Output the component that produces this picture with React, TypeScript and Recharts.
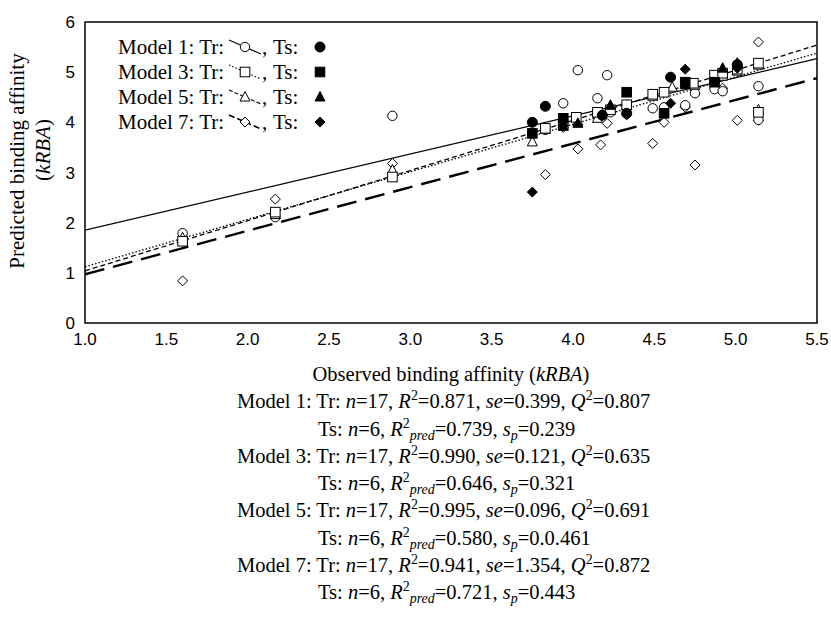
import React from 'react';
import { ScatterChart, Scatter, XAxis, YAxis, ReferenceArea } from 'recharts';

const m1Train = [[1.60, 1.79], [2.17, 2.11], [2.89, 4.13], [3.83, 3.85], [3.94, 4.38], [4.03, 5.04], [4.15, 4.48], [4.21, 4.94], [4.23, 4.20], [4.49, 4.28], [4.56, 4.30], [4.69, 4.34], [4.75, 4.58], [4.87, 4.66], [4.92, 4.62], [5.14, 4.72], [5.14, 4.05]];
const m1Test = [[3.75, 4.00], [3.83, 4.32], [4.18, 4.14], [4.33, 4.18], [4.60, 4.90], [5.01, 5.15]];
const m3Train = [[1.60, 1.63], [2.17, 2.21], [2.89, 2.91], [3.83, 3.88], [3.94, 3.95], [4.02, 4.10], [4.15, 4.20], [4.23, 4.25], [4.33, 4.35], [4.49, 4.56], [4.56, 4.60], [4.74, 4.78], [4.87, 4.94], [4.92, 4.98], [5.01, 5.06], [5.14, 5.18], [5.14, 4.20]];
const m3Test = [[3.75, 3.78], [3.94, 4.08], [4.33, 4.60], [4.56, 4.18], [4.69, 4.80], [4.87, 4.80]];
const m5Train = [[1.60, 1.70], [2.17, 2.16], [2.89, 3.05], [3.75, 3.61], [3.83, 3.86], [4.03, 4.02], [4.15, 4.08], [4.23, 4.28], [4.33, 4.34], [4.49, 4.52], [4.61, 4.70], [4.75, 4.74], [4.87, 4.88], [4.92, 4.92], [5.01, 5.02], [5.14, 5.14], [5.14, 4.25]];
const m5Test = [[3.94, 3.92], [4.03, 3.98], [4.23, 4.34], [4.69, 4.75], [4.92, 5.08], [5.01, 5.18]];
const m7Train = [[1.60, 0.84], [2.17, 2.47], [2.89, 3.18], [3.83, 2.96], [4.03, 3.47], [4.17, 3.55], [4.21, 3.98], [4.49, 3.58], [4.56, 4.00], [4.75, 3.15], [5.01, 4.04], [5.14, 5.60], [5.14, 4.04], [3.94, 3.90], [4.15, 4.12], [4.92, 4.68], [4.69, 4.30]];
const m7Test = [[3.75, 2.61], [3.94, 3.93], [4.33, 4.15], [4.60, 4.38], [4.69, 5.06], [5.01, 5.08]];

// regression line end points
const fit1 = [[1, 1.85], [5.5, 5.27]];
const fit3 = [[1, 1.12], [5.5, 5.38]];
const fit5 = [[1, 1.04], [5.5, 5.54]];
const fit7 = [[1, 0.97], [5.5, 4.88]];

const xTicks = [1, 1.5, 2, 2.5, 3, 3.5, 4, 4.5, 5, 5.5];
const yTicks = [0, 1, 2, 3, 4, 5, 6];

const toPts = (arr: number[][]) => arr.map(([x, y]) => ({ x, y }));

const SERIF = '"Liberation Serif", "Times New Roman", serif';
const SANS = '"Liberation Sans", Arial, sans-serif';

// marker shapes
const circle = (cx: number, cy: number, filled: boolean) => (
    <circle cx={cx} cy={cy} r={filled ? 5 : 4.7} fill={filled ? '#000' : '#fff'} stroke="#000" strokeWidth={1} />
);
const square = (cx: number, cy: number, filled: boolean) => (
    <rect x={cx - 4.8} y={cy - 4.8} width={9.6} height={9.6} fill={filled ? '#000' : '#fff'} stroke="#000" strokeWidth={1} />
);
const triangle = (cx: number, cy: number, filled: boolean) => (
    <polygon points={`${cx},${cy - 5.5} ${cx + 5},${cy + 4} ${cx - 5},${cy + 4}`} fill={filled ? '#000' : '#fff'} stroke="#000" strokeWidth={1} />
);
const diamond = (cx: number, cy: number, filled: boolean) => (
    <polygon points={`${cx},${cy - 5} ${cx + 5},${cy} ${cx},${cy + 5} ${cx - 5},${cy}`} fill={filled ? '#000' : '#fff'} stroke="#000" strokeWidth={1} />
);

const mk = (fn: typeof circle, filled: boolean) => (p: any) => fn(p.cx, p.cy, filled);
const noShape = () => <g />;

const legendRows = [
    { label: 'Model 1: Tr:', fn: circle, dash: undefined, width: 1.1 },
    { label: 'Model 3: Tr:', fn: square, dash: '1.5 2', width: 1.1 },
    { label: 'Model 5: Tr:', fn: triangle, dash: '4 2', width: 1.1 },
    { label: 'Model 7: Tr:', fn: diamond, dash: '6 3', width: 1.6 },
];

const axisTitle = <>Observed binding affinity (<i>kRBA</i>)</>;

const statLines: { indent: number; text: React.ReactNode }[] = [
    { indent: 237, text: <>Model 1: Tr: <i>n</i>=17, <i>R</i><sup>2</sup>=0.871, <i>se</i>=0.399, <i>Q</i><sup>2</sup>=0.807</> },
    { indent: 318, text: <>Ts: <i>n</i>=6, <i>R</i><sup>2</sup><sub><i>pred</i></sub>=0.739, <i>s</i><sub><i>p</i></sub>=0.239</> },
    { indent: 237, text: <>Model 3: Tr: <i>n</i>=17, <i>R</i><sup>2</sup>=0.990, <i>se</i>=0.121, <i>Q</i><sup>2</sup>=0.635</> },
    { indent: 318, text: <>Ts: <i>n</i>=6, <i>R</i><sup>2</sup><sub><i>pred</i></sub>=0.646, <i>s</i><sub><i>p</i></sub>=0.321</> },
    { indent: 237, text: <>Model 5: Tr: <i>n</i>=17, <i>R</i><sup>2</sup>=0.995, <i>se</i>=0.096, <i>Q</i><sup>2</sup>=0.691</> },
    { indent: 318, text: <>Ts: <i>n</i>=6, <i>R</i><sup>2</sup><sub><i>pred</i></sub>=0.580, <i>s</i><sub><i>p</i></sub>=0.0.461</> },
    { indent: 237, text: <>Model 7: Tr: <i>n</i>=17, <i>R</i><sup>2</sup>=0.941, <i>se</i>=1.354, <i>Q</i><sup>2</sup>=0.872</> },
    { indent: 318, text: <>Ts: <i>n</i>=6, <i>R</i><sup>2</sup><sub><i>pred</i></sub>=0.721, <i>s</i><sub><i>p</i></sub>=0.443</> },
];

const supStyle = `
  .stats sup { font-size: 0.68em; line-height: 0; vertical-align: 0.55em; }
  .stats sub { font-size: 0.68em; line-height: 0; vertical-align: -0.3em; }
`;

const LINE_H = 27.25;

export default function App() {
    return (
        <div style={{ position: 'absolute', left: 0, top: 0, width: 831, height: 618, background: '#fff', overflow: 'hidden' }}>
            <style>{supStyle}</style>
            <ScatterChart width={831} height={360} margin={{ top: 22, right: 14, bottom: 0, left: 0 }}>
                <XAxis type="number" dataKey="x" domain={[1, 5.5]} ticks={xTicks} tickFormatter={(v: number) => v.toFixed(1)}
                    height={37} tickLine={false} tickMargin={4} axisLine={false}
                    tick={{ fill: '#000', fontSize: 17, fontFamily: SANS }} allowDataOverflow />
                <YAxis type="number" dataKey="y" domain={[0, 6]} ticks={yTicks} width={85}
                    tickLine={false} tickMargin={4} axisLine={false}
                    tick={{ fill: '#000', fontSize: 17, fontFamily: SANS }} allowDataOverflow />
                <ReferenceArea x1={1} x2={5.5} y1={0} y2={6} fill="none" stroke="#000" strokeWidth={1.5} fillOpacity={0} />

                <Scatter data={toPts(fit1)} line={{ stroke: '#000', strokeWidth: 1.2 }} shape={noShape} isAnimationActive={false} legendType="none" />
                <Scatter data={toPts(fit3)} line={{ stroke: '#000', strokeWidth: 1.3, strokeDasharray: '1.5 2' }} shape={noShape} isAnimationActive={false} legendType="none" />
                <Scatter data={toPts(fit5)} line={{ stroke: '#000', strokeWidth: 1.3, strokeDasharray: '5 3' }} shape={noShape} isAnimationActive={false} legendType="none" />
                <Scatter data={toPts(fit7)} line={{ stroke: '#000', strokeWidth: 2.4, strokeDasharray: '20 9' }} shape={noShape} isAnimationActive={false} legendType="none" />

                <Scatter data={toPts(m7Train)} shape={mk(diamond, false)} isAnimationActive={false} />
                <Scatter data={toPts(m1Train)} shape={mk(circle, false)} isAnimationActive={false} />
                <Scatter data={toPts(m5Train)} shape={mk(triangle, false)} isAnimationActive={false} />
                <Scatter data={toPts(m3Train)} shape={mk(square, false)} isAnimationActive={false} />
                <Scatter data={toPts(m1Test)} shape={mk(circle, true)} isAnimationActive={false} />
                <Scatter data={toPts(m7Test)} shape={mk(diamond, true)} isAnimationActive={false} />
                <Scatter data={toPts(m5Test)} shape={mk(triangle, true)} isAnimationActive={false} />
                <Scatter data={toPts(m3Test)} shape={mk(square, true)} isAnimationActive={false} />
            </ScatterChart>

            {/* legend + y axis title */}
            <svg width={831} height={360} style={{ position: 'absolute', left: 0, top: 0, pointerEvents: 'none' }}>
                {legendRows.map((r, i) => {
                    const y = 47 + i * 25;
                    return (
                        <g key={r.label}>
                            <text x={118} y={y + 7} fontFamily={SERIF} fontSize={21} fill="#000">{r.label}</text>
                            <line x1={229} y1={y - 7} x2={261} y2={y + 7} stroke="#000" strokeWidth={r.width} strokeDasharray={r.dash} />
                            {r.fn(245, y, false)}
                            <text x={262} y={y + 7} fontFamily={SERIF} fontSize={21} fill="#000">,</text>
                            <text x={273} y={y + 7} fontFamily={SERIF} fontSize={21} fill="#000">Ts:</text>
                            {r.fn(320, y, true)}
                        </g>
                    );
                })}
                <text transform="translate(24,161) rotate(-90)" textAnchor="middle" fontFamily={SERIF} fontSize={21} fill="#000">
                    Predicted binding affinity
                </text>
                <text transform="translate(50,150) rotate(-90)" textAnchor="middle" fontFamily={SERIF} fontSize={21} fill="#000">
                    (<tspan fontStyle="italic">kRBA</tspan>)
                </text>
            </svg>

            <div className="stats" style={{ position: 'absolute', left: 0, top: 361, width: 831, fontFamily: SERIF, fontSize: 20.5, color: '#000' }}>
                <div style={{ position: 'absolute', left: 85, width: 732, top: 0, height: LINE_H, lineHeight: `${LINE_H}px`, textAlign: 'center', whiteSpace: 'nowrap' }}>{axisTitle}</div>
                {statLines.map((l, i) => (
                    <div key={i} style={{ position: 'absolute', left: l.indent, top: (i + 1) * LINE_H, height: LINE_H, lineHeight: `${LINE_H}px`, whiteSpace: 'nowrap' }}>{l.text}</div>
                ))}
            </div>
        </div>
    );
}
